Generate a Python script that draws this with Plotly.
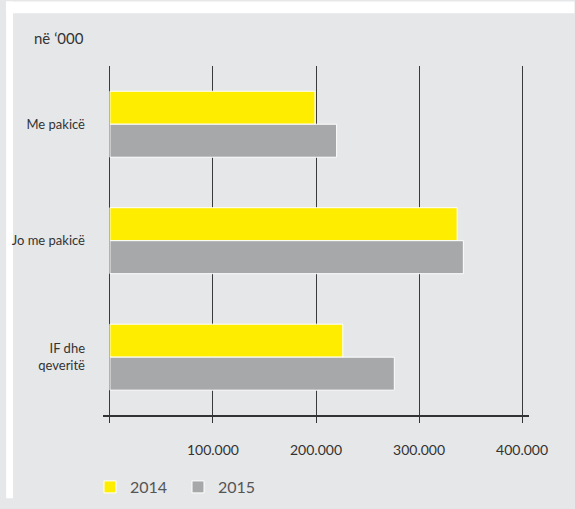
import plotly.graph_objects as go

categories = ["Me pakicë", "Jo me pakicë", "IF dhe<br>qeveritë"]
values_2014 = [199000, 337000, 226000]
values_2015 = [220000, 343000, 276000]
tick_vals = [0, 100000, 200000, 300000, 400000]
tick_text = ["", "100.000", "200.000", "300.000", "400.000"]

BG = "#e6e7e8"
FONT = "Lato, 'Open Sans', sans-serif"

fig = go.Figure()
fig.add_trace(go.Bar(
    y=categories, x=values_2014, name="2014", orientation="h",
    marker=dict(color="#ffed00", line=dict(color="white", width=1)),
))
fig.add_trace(go.Bar(
    y=categories, x=values_2015, name="2015", orientation="h",
    marker=dict(color="#a7a8aa", line=dict(color="white", width=1)),
))

fig.update_layout(
    width=575, height=509,
    margin=dict(l=98, r=46, t=66, b=85),
    paper_bgcolor=BG, plot_bgcolor=BG,
    barmode="group", bargap=0.4335, bargroupgap=0,
    font=dict(family=FONT, color="#333333"),
    xaxis=dict(
        range=[-6710, 406710],
        tickvals=tick_vals, ticktext=tick_text,
        showgrid=True, gridcolor="#3a3a3a", gridwidth=1.3,
        zeroline=False,
        showline=True, linecolor="#333333", linewidth=1.6,
        ticks="outside", ticklen=6, tickcolor="#333333", tickwidth=1.2,
        tickfont=dict(size=14, color="#333333"),
        ticklabelstandoff=15,
        fixedrange=True,
    ),
    yaxis=dict(
        autorange="reversed",
        showgrid=False, zeroline=False, showline=False,
        ticks="", tickfont=dict(size=13, color="#333333"),
        ticklabelstandoff=17,
        fixedrange=True,
    ),
    showlegend=True,
    legend=dict(
        orientation="h", xref="container", yref="container",
        x=90 / 575, xanchor="left", y=1 - 487 / 509, yanchor="middle",
        font=dict(size=16, color="#555555"),
        entrywidthmode="pixels", entrywidth=43,
        bgcolor="rgba(0,0,0,0)",
        traceorder="normal",
    ),
    annotations=[dict(
        text="në ‘000", xref="paper", yref="paper",
        x=-72 / 431, y=1 + 29 / 358, xanchor="left", yanchor="middle",
        showarrow=False, font=dict(size=15, color="#333333"),
    )],
    shapes=[
        dict(type="rect", xref="paper", yref="paper", layer="below",
             x0=-98 / 431, x1=1 + 46 / 431, y0=1 + 54 / 358, y1=1 + 66 / 358,
             fillcolor="white", line=dict(width=0)),
        dict(type="rect", xref="paper", yref="paper", layer="below",
             x0=-98 / 431, x1=-91 / 431, y0=-85 / 358, y1=1 + 66 / 358,
             fillcolor="white", line=dict(width=0)),
    ],
)

fig.write_html(
    "out.html",
    config={"displayModeBar": False},
    post_script="document.body.style.margin='0';document.body.style.overflow='hidden';",
)
